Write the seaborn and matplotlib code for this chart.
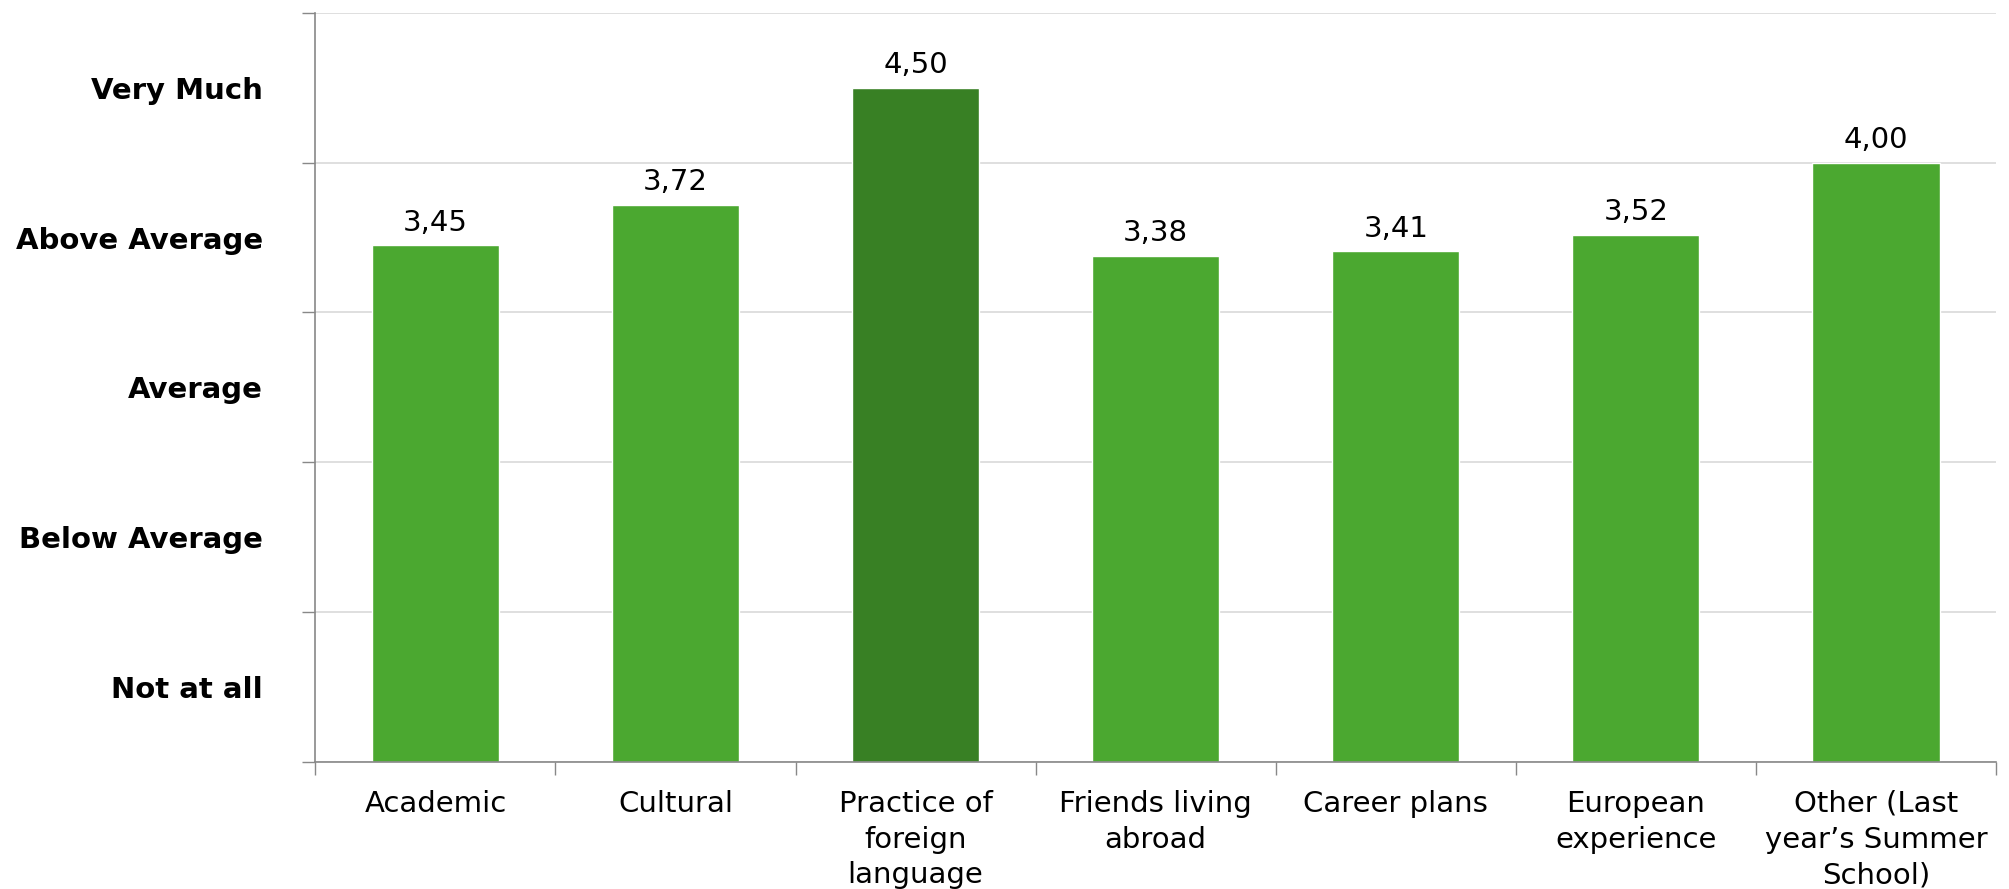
import matplotlib
matplotlib.use("Agg")
import matplotlib.pyplot as plt
import numpy as np
import pandas as pd
import seaborn as sns

# data
categories = ["Academic", "Cultural", "Practice of\nforeign\nlanguage",
              "Friends living\nabroad", "Career plans", "European\nexperience",
              "Other (Last\nyear\u2019s Summer\nSchool)"]
values = [3.45, 3.72, 4.50, 3.38, 3.41, 3.52, 4.00]
level_labels = ["Not at all", "Below Average", "Average", "Above Average", "Very Much"]

light_green = "#4BA830"
dark_green = "#388024"
colors = [dark_green if v == max(values) else light_green for v in values]

df = pd.DataFrame({"cat": categories, "val": values})

sns.set_theme(style="white")
plt.rcParams["font.family"] = ["DejaVu Sans"]
plt.rcParams["text.color"] = "black"
plt.rcParams["xtick.color"] = "black"
plt.rcParams["ytick.color"] = "black"

FS = 21

fig = plt.figure(figsize=(20.09, 8.89), dpi=100)
ax = fig.add_axes([0.157, 0.143, 0.8365, 0.8426])

sns.barplot(data=df, x="cat", y="val", hue="cat", palette=colors,
            legend=False, width=0.53, saturation=1, ax=ax)

# value labels
for i, v in enumerate(values):
    ax.annotate(f"{v:.2f}".replace(".", ","), (i, v), xytext=(0, 6),
                textcoords="offset points", ha="center", va="bottom",
                fontsize=FS, color="black")

n = len(categories)
ax.set_xlim(-0.5, n - 0.5)
ax.set_ylim(0, 5)

# y: gridlines at integers, level names at half steps
ax.set_yticks(np.arange(0, 6))
ax.set_yticklabels([])
ax.set_yticks(np.arange(0.5, 5, 1), minor=True)
ax.set_yticklabels(level_labels, minor=True, fontsize=FS, fontweight="bold")
ax.tick_params(axis="y", which="major", length=9.5, width=1, color="#888888", left=True)
ax.tick_params(axis="y", which="minor", length=0, pad=38)

# x: ticks between bars, names under bars
ax.set_xticks(np.arange(-0.5, n, 1))
ax.set_xticklabels([])
ax.set_xticks(np.arange(n), minor=True)
ax.set_xticklabels(categories, minor=True, fontsize=FS)
for t in ax.get_xticklabels(minor=True):
    t.set_linespacing(1.36)
ax.tick_params(axis="x", which="major", length=9.5, width=1, color="#888888", bottom=True)
ax.tick_params(axis="x", which="minor", length=0, pad=20)

ax.grid(axis="y", which="major", color="#d9d9d9", linewidth=1.2)
ax.set_axisbelow(True)
for s in ["top", "right"]:
    ax.spines[s].set_visible(False)
for s in ["left", "bottom"]:
    ax.spines[s].set_color("#888888")
    ax.spines[s].set_linewidth(1.2)
ax.set_xlabel("")
ax.set_ylabel("")

fig.savefig("out.png", dpi=100)
